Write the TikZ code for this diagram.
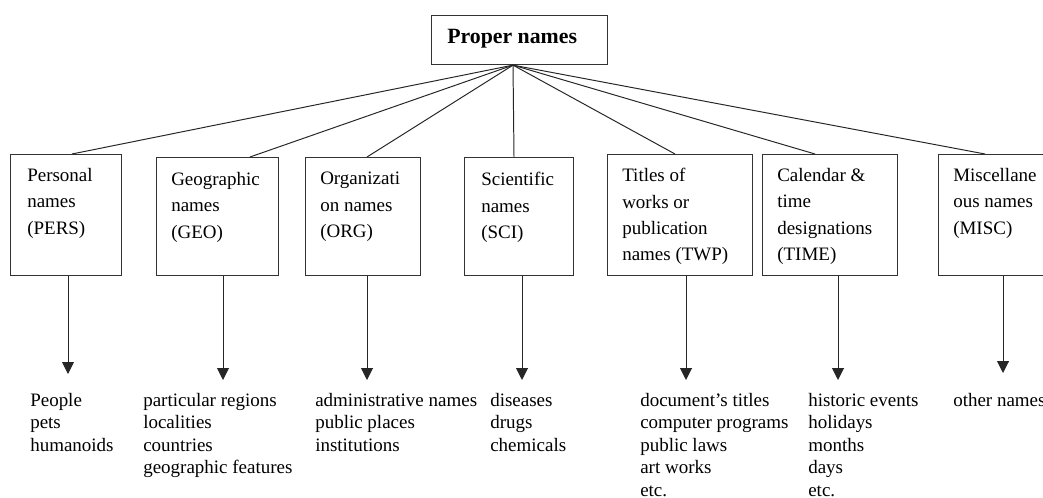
\documentclass[tikz,border=0pt]{standalone}
\usepackage{fontspec}
\setmainfont{Liberation Serif}
\usetikzlibrary{arrows.meta}
\begin{document}
\begin{tikzpicture}[x=0.025cm, y=-0.025cm,
    catbox/.style={draw=black!80, line width=0.8pt, anchor=north west, inner sep=0pt},
    cattext/.style={anchor=north west, align=left, inner sep=0pt, font=\fontsize{13.5}{18.8}\selectfont},
    listtext/.style={anchor=north west, align=left, inner sep=0pt, font=\fontsize{13.5}{16}\selectfont},
    branch/.style={line width=0.7pt, draw=black!85},
    arrowdown/.style={line width=0.7pt, draw=black!85, -{Triangle[width=8.5pt, length=8.5pt]}}]
        \clip (0,0) rectangle (1043,498);
        % root
        \node (top) at (431,15) [catbox, minimum width=4.4cm, minimum height=1.225cm] {};
        \node (toptext) at (447,29) [anchor=north west, inner sep=0pt, font=\fontsize{15.5}{18}\selectfont\bfseries] {Proper names};
        \coordinate (hub) at (513,0 |- top.south);

        % categories
        \node (pers) at (10,154) [catbox, minimum width=2.775cm, minimum height=3.025cm] {};
        \node (geo) at (156,157) [catbox, minimum width=3.05cm, minimum height=2.95cm] {};
        \node (org) at (305,157) [catbox, minimum width=2.875cm, minimum height=2.95cm] {};
        \node (sci) at (464,157) [catbox, minimum width=2.725cm, minimum height=2.95cm] {};
        \node (twp) at (607,154) [catbox, minimum width=3.625cm, minimum height=3.025cm] {};
        \node (time) at (762,154) [catbox, minimum width=3.375cm, minimum height=3.025cm] {};
        \node (misc) at (938,154) [catbox, minimum width=3.05cm, minimum height=3.025cm] {};

        \node (perstext) at (27,168) [cattext] {Personal\\names\\(PERS)};
        \node (geotext) at (171,172) [cattext] {Geographic\\names\\(GEO)};
        \node (orgtext) at (320,172) [cattext] {Organizati\\on names\\(ORG)};
        \node (scitext) at (481,172) [cattext] {Scientific\\names\\(SCI)};
        \node (twptext) at (622,168) [cattext] {Titles of\\works or\\publication\\names (TWP)};
        \node (timetext) at (777,168) [cattext] {Calendar \&\\time\\designations\\(TIME)};
        \node (misctext) at (953,168) [cattext] {Miscellane\\ous names\\(MISC)};

        \draw[branch] (hub) -- (72,0 |- pers.north);
        \draw[branch] (hub) -- (250,0 |- geo.north);
        \draw[branch] (hub) -- (367,0 |- org.north);
        \draw[branch] (hub) -- (514,0 |- sci.north);
        \draw[branch] (hub) -- (675,0 |- twp.north);
        \draw[branch] (hub) -- (815,0 |- time.north);
        \draw[branch] (hub) -- (985,0 |- misc.north);

        % examples
        \coordinate (perstip) at (68,374);
        \coordinate (geotip) at (223,380);
        \coordinate (orgtip) at (367,380);
        \coordinate (scitip) at (522,380);
        \coordinate (twptip) at (686,380);
        \coordinate (timetip) at (838,380);
        \coordinate (misctip) at (1003,373);

        \draw[arrowdown] (perstip |- pers.south) -- (perstip);
        \draw[arrowdown] (geotip |- geo.south) -- (geotip);
        \draw[arrowdown] (orgtip |- org.south) -- (orgtip);
        \draw[arrowdown] (scitip |- sci.south) -- (scitip);
        \draw[arrowdown] (twptip |- twp.south) -- (twptip);
        \draw[arrowdown] (timetip |- time.south) -- (timetip);
        \draw[arrowdown] (misctip |- misc.south) -- (misctip);

        \node (perslist) at (30,393) [listtext] {People\\pets\\humanoids};
        \node (geolist) at (143,393) [listtext] {particular regions\\localities\\countries\\geographic features};
        \node (orglist) at (315,393) [listtext] {administrative names\\public places\\institutions};
        \node (scilist) at (490,393) [listtext] {diseases\\drugs\\chemicals};
        \node (twplist) at (640,393) [listtext] {document's titles\\computer programs\\public laws\\art works\\etc.};
        \node (timelist) at (808,393) [listtext] {historic events\\holidays\\months\\days\\etc.};
        \node (misclist) at (953,393) [listtext] {other names};
\end{tikzpicture}
\end{document}
